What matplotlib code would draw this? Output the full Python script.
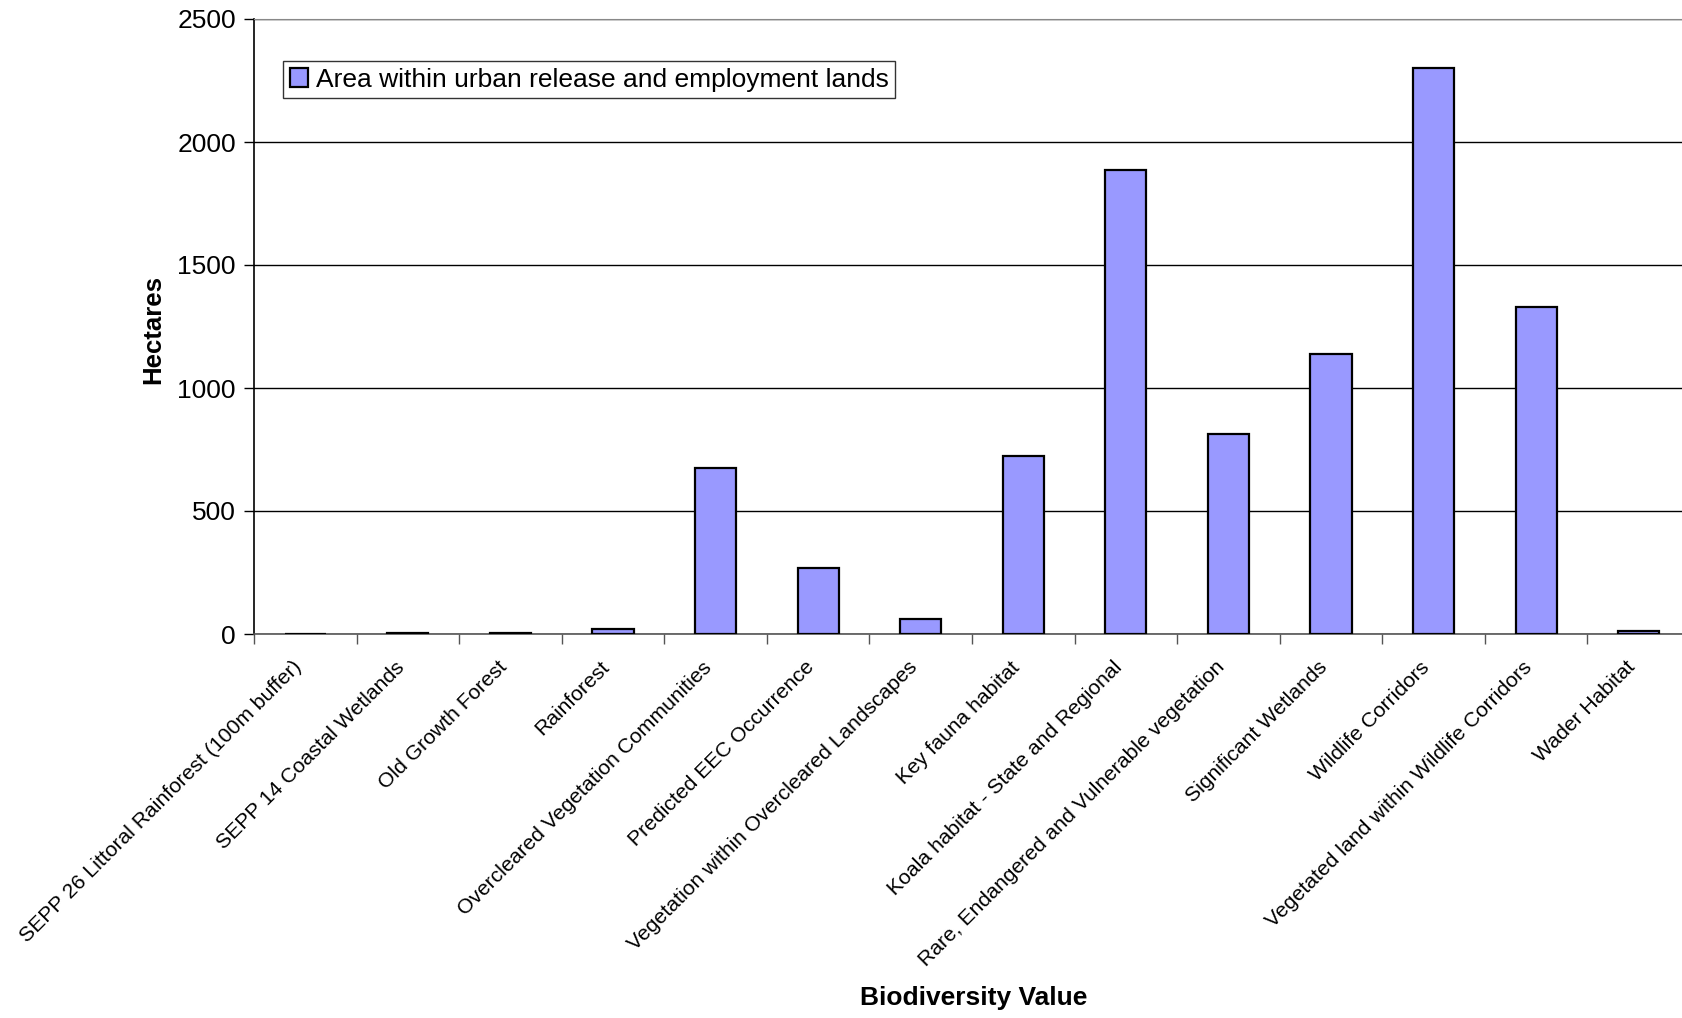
import matplotlib
matplotlib.use("Agg")
import matplotlib.pyplot as plt
import matplotlib.transforms as mtransforms
import numpy as np

categories = [
    "SEPP 26 Littoral Rainforest (100m buffer)",
    "SEPP 14 Coastal Wetlands",
    "Old Growth Forest",
    "Rainforest",
    "Overcleared Vegetation Communities",
    "Predicted EEC Occurrence",
    "Vegetation within Overcleared Landscapes",
    "Key fauna habitat",
    "Koala habitat - State and Regional",
    "Rare, Endangered and Vulnerable vegetation",
    "Significant Wetlands",
    "Wildlife Corridors",
    "Vegetated land within Wildlife Corridors",
    "Wader Habitat",
]
hectares = [2, 6, 6, 19, 676, 270, 61, 724, 1885, 811, 1139, 2299, 1331, 11]
series_name = "Area within urban release and employment lands"

plt.rcParams["font.family"] = ["Liberation Sans", "DejaVu Sans"]

W, H = 1682, 1018
ax_l, ax_r, ax_t, ax_b = 254, 1690, 19, 634

fig = plt.figure(figsize=(W / 100, H / 100), dpi=100)
ax = fig.add_axes([ax_l / W, 1 - ax_b / H, (ax_r - ax_l) / W, (ax_b - ax_t) / H])

x = np.arange(len(categories))
ax.bar(x, hectares, width=0.4, color="#9999FF", edgecolor="black",
       linewidth=1.6, label=series_name, zorder=3)

ax.set_xlim(-0.5, len(categories) - 0.5)
ax.set_ylim(0, 2500)
ax.set_yticks(np.arange(0, 2501, 500))
ax.yaxis.grid(True, color="black", linewidth=1.0, zorder=0)
ax.set_axisbelow(True)

# category labels at centres, tick marks at category boundaries
ax.set_xticks(x)
ax.set_xticklabels(categories, rotation=45, ha="right", va="top", fontsize=15.2)
shift = mtransforms.ScaledTranslation(-6 / 100, 0, fig.dpi_scale_trans)
for lbl in ax.get_xticklabels():
    lbl.set_transform(lbl.get_transform() + shift)
ax.tick_params(axis="x", which="major", length=0, pad=17)
ax.set_xticks(np.arange(-0.5, len(categories), 1.0), minor=True)
ax.tick_params(axis="x", which="minor", length=7, width=1.0, color="#555555")
ax.tick_params(axis="y", length=7, width=1.0, labelsize=19, pad=6)

ax.spines["right"].set_visible(False)
ax.spines["top"].set_color("#888888")
ax.spines["left"].set_linewidth(1.2)
ax.spines["bottom"].set_color("#555555")
ax.spines["bottom"].set_linewidth(1.2)

ax.set_ylabel("Hectares", fontsize=18.5, fontweight="bold")
ax.yaxis.set_label_coords((153.5 - ax_l) / (ax_r - ax_l), (ax_b - 329) / (ax_b - ax_t))
ax.yaxis.label.set_va("center")
ax.set_xlabel("Biodiversity Value", fontsize=19, fontweight="bold")
ax.xaxis.set_label_coords((973.5 - ax_l) / (ax_r - ax_l), -(998 - ax_b) / (ax_b - ax_t))
ax.xaxis.label.set_va("center")

leg = ax.legend(loc="upper left",
                bbox_to_anchor=((283 - ax_l) / (ax_r - ax_l), 1 - (61 - ax_t) / (ax_b - ax_t)),
                fontsize=19, frameon=True, fancybox=False, borderpad=0.25,
                handlelength=0.7, handleheight=0.7, handletextpad=0.3, borderaxespad=0)
leg.get_frame().set_edgecolor("black")
leg.get_frame().set_linewidth(1.0)

fig.savefig("out.png", dpi=100, facecolor="white")
